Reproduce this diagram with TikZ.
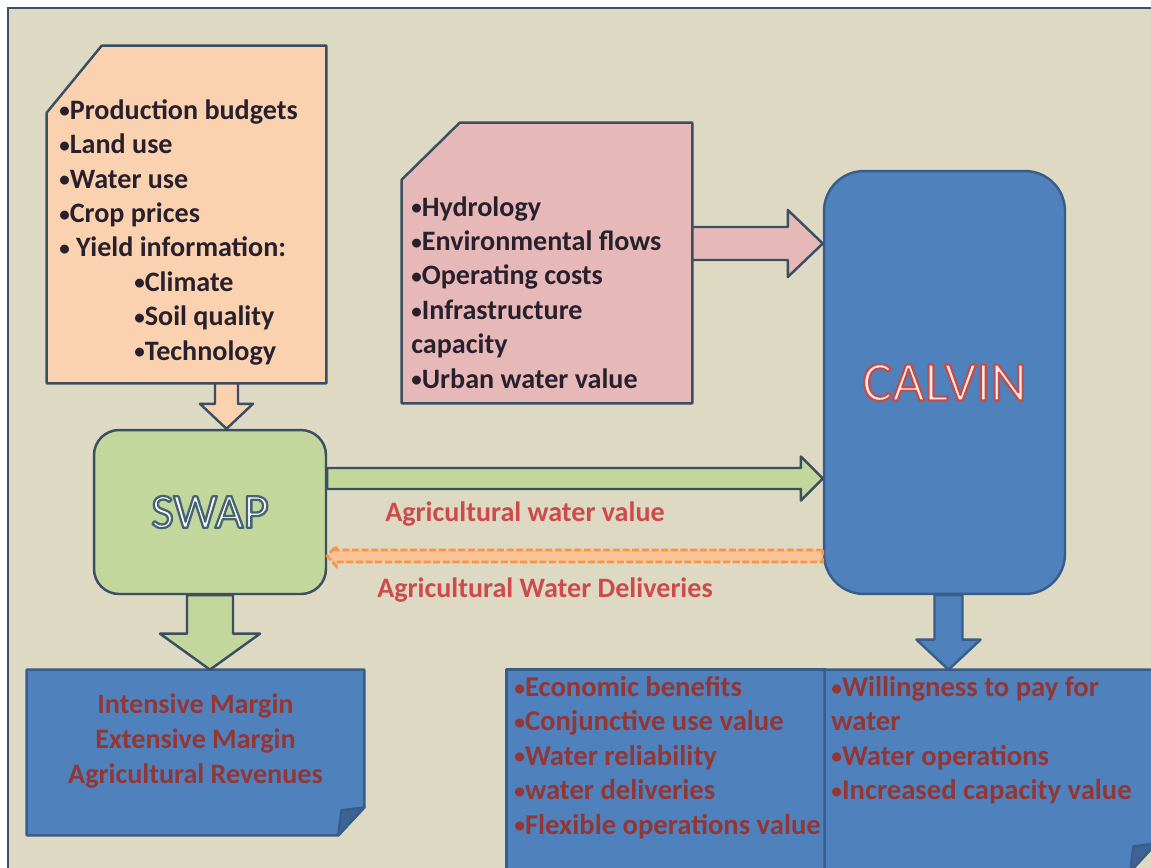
\documentclass[tikz,border=0pt]{standalone}
\usepackage{fontspec}
\setmainfont{Carlito}
\usetikzlibrary{calc,positioning}

\definecolor{slide}{RGB}{221,217,195}
\definecolor{frameblue}{RGB}{62,78,112}
\definecolor{edge}{RGB}{59,78,98}
\definecolor{peach}{RGB}{251,210,176}
\definecolor{rose}{RGB}{230,185,184}
\definecolor{leaf}{RGB}{195,214,155}
\definecolor{steel}{RGB}{79,129,189}
\definecolor{steeledge}{RGB}{56,93,138}
\definecolor{ink}{RGB}{40,32,45}
\definecolor{wine}{RGB}{148,54,52}
\definecolor{brick}{RGB}{205,75,75}
\definecolor{amber}{RGB}{247,150,70}
\definecolor{amberfill}{RGB}{250,196,150}
\definecolor{calvpink}{RGB}{253,236,234}

\newcommand\bul{\raisebox{.1ex}{\scalebox{.75}{•}}}
% outlined text: text, fill colour, stroke colour as r g b
\newcommand\outlined[3]{\textcolor{#2}{\special{pdf:literal direct 2 Tr 1.3 w #3 RG}#1\special{pdf:literal direct 0 Tr 0.4 w}}}

% block arrows: from, to, shaft half width, head half width, head length, style
\newcommand\vblock[6]{%
  \draw[#6] ($(#1)+(-#3,0)$) -- ($(#2)+(-#3,-#5)$) -- ($(#2)+(-#4,-#5)$) -- (#2)
    -- ($(#2)+(#4,-#5)$) -- ($(#2)+(#3,-#5)$) -- ($(#1)+(#3,0)$) -- cycle;}
\newcommand\hblock[6]{%
  \draw[#6] ($(#1)+(0,-#3)$) -- ($(#2)+({-(#5)},-#3)$) -- ($(#2)+({-(#5)},-#4)$) -- (#2)
    -- ($(#2)+({-(#5)},#4)$) -- ($(#2)+({-(#5)},#3)$) -- ($(#1)+(0,#3)$) -- cycle;}
% box with cut top left corner
\newcommand\snipbox[4]{%
  \draw[#4] ($(#1.north west)+(0,#3)$) -- ($(#1.north west)+(#2,0)$) -- (#1.north east)
    -- (#1.south east) -- (#1.south west) -- cycle;}
% box with folded bottom right corner
\newcommand\foldbox[4]{%
  \draw[#4] (#1.north west) -- (#1.north east) -- ($(#1.south east)+(0,-#3)$)
    -- ($(#1.south east)+(-#2,0)$) -- (#1.south west) -- cycle;
  \draw[#4, fill=steeledge!80!steel] ($(#1.south east)+(0,-#3)$) -- ($(#1.south east)+(-#2,0)$)
    -- ($(#1.south east)+(-#2+3,-#3+3)$) -- cycle;}

\tikzset{
  area/.style={inner sep=0pt, draw=none},
  outline/.style={draw=edge, line width=1.4pt, line join=round},
  blueline/.style={draw=steeledge, line width=1.4pt, line join=round},
  dashedarrow/.style={draw=amber, fill=amberfill, line width=1.6pt, dash pattern=on 4pt off 1.5pt},
  items/.style={anchor=north west, inner sep=0pt, align=left, text=ink,
    font=\bfseries\fontsize{16}{19.6}\selectfont},
  outitems/.style={items, text=wine, font=\bfseries\fontsize{16.3}{19.6}\selectfont},
  flowlabel/.style={inner sep=0pt, text=brick, font=\bfseries\fontsize{16}{19}\selectfont}
}

\begin{document}
\begin{tikzpicture}[x=0.02cm, y=-0.02cm]
\useasboundingbox (0,0) rectangle (1151,867);
\clip (0,0) rectangle (1151,867);
\fill[white] (0,0) rectangle (1151,867);
\draw[fill=slide, draw=frameblue, line width=1.5pt] (8,8) rectangle (1180,900);

% box areas
\node[area, minimum width=5.58cm, minimum height=6.74cm] (inputs) at (186.5,214.5) {};
\node[area, minimum width=5.8cm, minimum height=5.6cm] (params) at (547,263) {};
\node[area, minimum width=6.74cm, minimum height=3.3cm] (swapout) at (195.5,752.5) {};
\node[area, minimum width=6.36cm, minimum height=4.2cm] (benefits) at (666,775) {};
\node[area, minimum width=6.62cm, minimum height=4.02cm] (wtp) at (990.5,770.5) {};

\snipbox{inputs}{55}{67}{outline, fill=peach}
\snipbox{params}{58}{57}{outline, fill=rose}
\foldbox{swapout}{26}{28}{blueline, fill=steel}
\draw[blueline, fill=steel] (benefits.north west) rectangle (benefits.south east);
\foldbox{wtp}{26}{28}{blueline, fill=steel}

% models
\node[rounded corners=0.5cm, outline, fill=leaf, minimum width=4.64cm, minimum height=3.28cm] (swap) at (210,512)
  {\fontsize{28}{30}\selectfont\outlined{SWAP}{white}{0.27 0.39 0.45}};
\node[rounded corners=0.8cm, blueline, fill=steel, minimum width=4.82cm, minimum height=8.46cm] (calvin) at (944.5,382.5)
  {\fontsize{32}{34}\selectfont\outlined{CALVIN}{calvpink}{0.75 0.31 0.30}};

% arrows
\coordinate (i1) at ($(inputs.south)+(40,0)$);
\coordinate (i2) at (i1 |- swap.north);
\vblock{i1}{i2}{11.5}{26.5}{25}{outline, fill=peach}
\coordinate (s1) at (swap.south);
\coordinate (s2) at (s1 |- swapout.north);
\vblock{s1}{s2}{23}{50}{36}{outline, fill=leaf}
\coordinate (c1) at ($(calvin.south)+(4,0)$);
\coordinate (c2) at (c1 |- wtp.north);
\vblock{c1}{c2}{14}{32}{30}{blueline, fill=steel}
\coordinate (p1) at ($(params.east)+(0,-19.5)$);
\coordinate (p2) at (p1 -| calvin.west);
\hblock{p1}{p2}{16.5}{33.5}{35}{outline, fill=rose}
\coordinate (g1) at ($(swap.east)+(0,-33.5)$);
\coordinate (g2) at (g1 -| calvin.west);
\hblock{g1}{g2}{10.5}{22}{22}{outline, fill=leaf}
\coordinate (d1) at ($(swap.east)+(0,44)$);
\coordinate (d2) at (d1 -| calvin.west);
\hblock{d2}{d1}{6}{10}{-9}{dashedarrow}

\node[flowlabel] (valuelbl) at (525,514) {Agricultural water value};
\node[flowlabel] (deliverylbl) at (545,590) {Agricultural Water Deliveries};

% texts
\node[items] (inputstext) at (59,99) {\bul Production budgets\\ \bul Land use\\ \bul Water use\\
  \bul Crop prices\\ \bul\ Yield information:\\ \hspace*{1.5cm}\bul Climate\\
  \hspace*{1.5cm}\bul Soil quality\\ \hspace*{1.5cm}\bul Technology};
\node[items] (paramstext) at (411,196) {\bul Hydrology\\ \bul Environmental flows\\
  \bul Operating costs\\ \bul Infrastructure\\ capacity\\ \bul Urban water value};
\node[outitems, anchor=center, align=center, font=\bfseries\fontsize{16}{20.1}\selectfont] (swapouttext)
  at ($(swapout)+(0,-11.5)$) {Intensive Margin\\ Extensive Margin\\ Agricultural Revenues};
\node[outitems] (benefitstext) at (514,676) {\bul Economic benefits\\ \bul Conjunctive use value\\
  \bul Water reliability\\ \bul water deliveries\\ \bul Flexible operations value};
\node[outitems] (wtptext) at (831,676) {\bul Willingness to pay for\\ water\\
  \bul Water operations\\ \bul Increased capacity value};
\end{tikzpicture}
\end{document}
